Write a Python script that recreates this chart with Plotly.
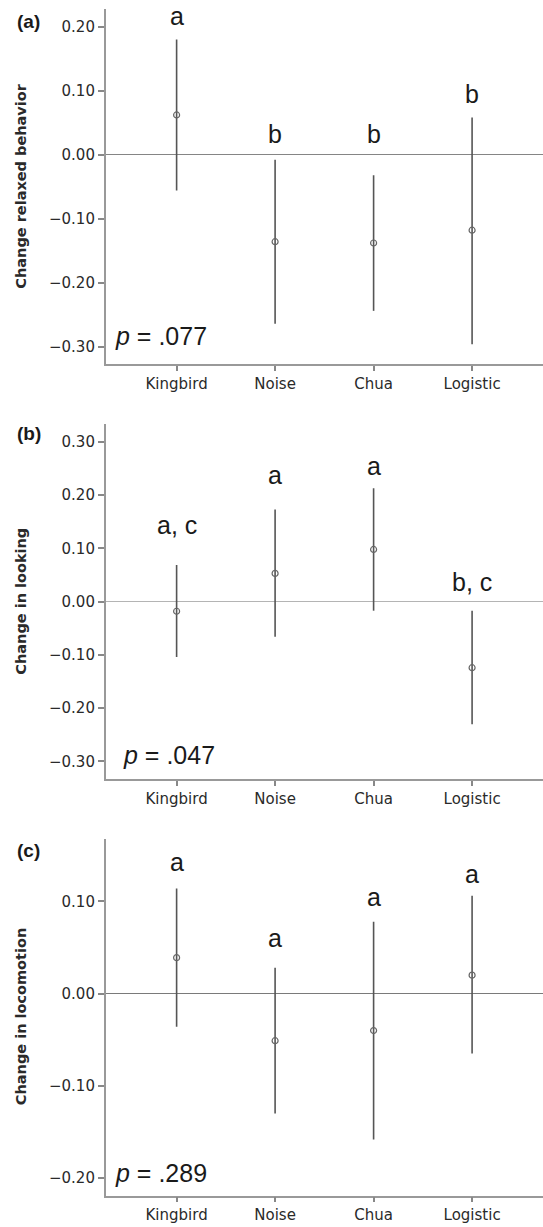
import plotly.graph_objects as go

categories = ["Kingbird", "Noise", "Chua", "Logistic"]

# Panel (a): Change relaxed behavior
a_mean = [0.062, -0.136, -0.138, -0.118]
a_upper = [0.180, -0.008, -0.032, 0.058]
a_lower = [-0.056, -0.264, -0.244, -0.296]
a_letters = ["a", "b", "b", "b"]
a_letter_y = [0.216, 0.033, 0.033, 0.094]

# Panel (b): Change in looking
b_mean = [-0.018, 0.053, 0.098, -0.124]
b_upper = [0.069, 0.173, 0.213, -0.017]
b_lower = [-0.104, -0.066, -0.017, -0.230]
b_letters = ["a, c", "a", "a", "b, c"]
b_letter_y = [0.143, 0.238, 0.255, 0.037]

# Panel (c): Change in locomotion
c_mean = [0.039, -0.051, -0.040, 0.020]
c_upper = [0.114, 0.028, 0.078, 0.106]
c_lower = [-0.036, -0.130, -0.158, -0.065]
c_letters = ["a", "a", "a", "a"]
c_letter_y = [0.143, 0.060, 0.105, 0.130]

p_texts = ["<i>p</i> = .077", "<i>p</i> = .047", "<i>p</i> = .289"]
p_y = [-0.284, -0.287, -0.194]
p_x = [-0.65, -0.56, -0.65]
panel_tags = ["(a)", "(b)", "(c)"]
y_titles = ["Change relaxed behavior", "Change in looking", "Change in locomotion"]
y_ranges = [[-0.327, 0.227], [-0.333, 0.333], [-0.219, 0.168]]

W, H = 543, 1227
# pixel extents of each plot area (top, bottom)
px_rows = [(9.3, 364.0), (424.3, 779.0), (838.6, 1195.7)]
x_left_px = 105.7
zero_colors = ["#858585", "#b4b4b4", "#7a7a7a"]

panels = [
    (a_mean, a_upper, a_lower, a_letters, a_letter_y),
    (b_mean, b_upper, b_lower, b_letters, b_letter_y),
    (c_mean, c_upper, c_lower, c_letters, c_letter_y),
]

fig = go.Figure()
annotations = []
layout = dict(
    width=W, height=H,
    margin=dict(l=0, r=0, t=0, b=0),
    paper_bgcolor="white", plot_bgcolor="white",
    showlegend=False,
    font=dict(family="DejaVu Sans", size=15, color="#2a2a2a"),
)

for i, (mean, up, lo, letters, ly) in enumerate(panels):
    k = "" if i == 0 else str(i + 1)
    xa, ya = "x" + k, "y" + k
    top, bot = px_rows[i]
    fig.add_trace(go.Scatter(
        x=categories, y=mean, xaxis=xa, yaxis=ya, mode="markers",
        marker=dict(symbol="circle-open", size=6, color="#666666", line=dict(width=1.2)),
        error_y=dict(type="data", symmetric=False,
                     array=[u - m for u, m in zip(up, mean)],
                     arrayminus=[m - l for m, l in zip(mean, lo)],
                     width=0, thickness=1.6, color="#555555"),
        hoverinfo="skip",
    ))
    layout["xaxis" + k] = dict(
        domain=[x_left_px / W, 1], anchor=ya, type="category",
        range=[-0.72, 3.72], showline=True, linecolor="#999999", linewidth=1.5,
        ticks="outside", ticklen=5, tickwidth=1.5, tickcolor="#888888",
        showgrid=False, zeroline=False,
        tickfont=dict(family="DejaVu Sans", size=15, color="#2a2a2a"),
    )
    layout["yaxis" + k] = dict(
        domain=[1 - bot / H, 1 - top / H], anchor=xa,
        range=y_ranges[i], dtick=0.1, tick0=0, tickformat=".2f",
        showline=True, linecolor="#999999", linewidth=1.5,
        ticks="outside", ticklen=6, tickwidth=1.5, tickcolor="#888888",
        showgrid=False, zeroline=True, zerolinecolor=zero_colors[i], zerolinewidth=1.3,
        tickfont=dict(family="DejaVu Sans", size=15, color="#2a2a2a"),
    )
    for c, t, yy in zip(categories, letters, ly):
        annotations.append(dict(x=c, y=yy, xref=xa, yref=ya, text=t, showarrow=False,
                                xanchor="center", yanchor="middle",
                                font=dict(family="Liberation Sans", size=25, color="#1a1a1a")))
    annotations.append(dict(x=p_x[i], y=p_y[i], xref=xa, yref=ya, text=p_texts[i],
                            showarrow=False, xanchor="left", yanchor="middle",
                            font=dict(family="Liberation Sans", size=25, color="#1a1a1a")))
    annotations.append(dict(x=21 / W, y=1 - (top + bot) / 2 / H, xref="paper", yref="paper",
                            text="<b>" + y_titles[i] + "</b>", textangle=-90, showarrow=False,
                            xanchor="center", yanchor="middle",
                            font=dict(family="DejaVu Sans", size=14.5, color="#2a2a2a")))
    tag_y = [22, 433, 850][i]
    annotations.append(dict(x=15 / W, y=1 - tag_y / H, xref="paper", yref="paper",
                            text="<b>" + panel_tags[i] + "</b>", showarrow=False,
                            xanchor="left", yanchor="middle",
                            font=dict(family="Liberation Sans", size=19, color="#1a1a1a")))

layout["annotations"] = annotations
fig.update_layout(**layout)
fig.write_html("out.html")
